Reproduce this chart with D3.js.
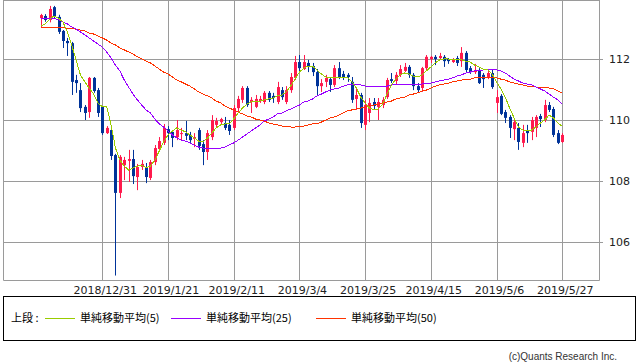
<!DOCTYPE html>
<html>
<head>
<meta charset="utf-8">
<script src="https://cdn.jsdelivr.net/npm/d3@7"></script>
<style>
  body { margin: 0; background: #fff; }
  text { font-family: "DejaVu Sans", sans-serif; }
</style>
</head>
<body>
<div id="plot"></div>
<script>
// daily USD/JPY candles, 2018/12/11 - 2019/5/27 (weekdays)
const dates = [
  "2018/12/11","2018/12/12","2018/12/13","2018/12/14",
  "2018/12/17","2018/12/18","2018/12/19","2018/12/20","2018/12/21",
  "2018/12/24","2018/12/25","2018/12/26","2018/12/27","2018/12/28",
  "2018/12/31","2019/1/1","2019/1/2","2019/1/3","2019/1/4",
  "2019/1/7","2019/1/8","2019/1/9","2019/1/10","2019/1/11",
  "2019/1/14","2019/1/15","2019/1/16","2019/1/17","2019/1/18",
  "2019/1/21","2019/1/22","2019/1/23","2019/1/24","2019/1/25",
  "2019/1/28","2019/1/29","2019/1/30","2019/1/31","2019/2/1",
  "2019/2/4","2019/2/5","2019/2/6","2019/2/7","2019/2/8",
  "2019/2/11","2019/2/12","2019/2/13","2019/2/14","2019/2/15",
  "2019/2/18","2019/2/19","2019/2/20","2019/2/21","2019/2/22",
  "2019/2/25","2019/2/26","2019/2/27","2019/2/28","2019/3/1",
  "2019/3/4","2019/3/5","2019/3/6","2019/3/7","2019/3/8",
  "2019/3/11","2019/3/12","2019/3/13","2019/3/14","2019/3/15",
  "2019/3/18","2019/3/19","2019/3/20","2019/3/21","2019/3/22",
  "2019/3/25","2019/3/26","2019/3/27","2019/3/28","2019/3/29",
  "2019/4/1","2019/4/2","2019/4/3","2019/4/4","2019/4/5",
  "2019/4/8","2019/4/9","2019/4/10","2019/4/11","2019/4/12",
  "2019/4/15","2019/4/16","2019/4/17","2019/4/18","2019/4/19",
  "2019/4/22","2019/4/23","2019/4/24","2019/4/25","2019/4/26",
  "2019/4/29","2019/4/30","2019/5/1","2019/5/2","2019/5/3",
  "2019/5/6","2019/5/7","2019/5/8","2019/5/9","2019/5/10",
  "2019/5/13","2019/5/14","2019/5/15","2019/5/16","2019/5/17",
  "2019/5/20","2019/5/21","2019/5/22","2019/5/23","2019/5/24",
  "2019/5/27"
];

const open = [
  113.34,113.41,113.28,113.70,113.38,112.92,112.59,112.52,111.31,110.98,
  110.43,110.26,111.38,110.98,110.43,109.57,109.67,108.85,107.61,108.52,
  108.66,108.72,108.13,108.46,108.46,108.10,108.62,109.05,109.25,109.70,
  109.61,109.44,109.54,109.57,109.51,109.38,109.67,109.21,108.95,109.44,
  109.84,109.93,109.90,109.84,109.74,110.39,110.66,111.05,110.59,110.43,
  110.62,110.59,110.89,110.79,110.59,110.98,110.59,110.98,111.38,111.90,
  111.67,111.87,111.77,111.57,111.11,111.25,111.34,111.15,111.70,111.51,
  111.48,111.25,110.69,110.82,109.84,110.23,110.59,110.43,110.49,110.75,
  111.34,111.28,111.48,111.61,111.74,111.48,111.11,111.05,111.70,112.00,
  112.07,112.03,112.07,112.00,111.90,112.03,111.93,112.20,111.70,111.57,
  111.64,111.48,111.41,111.54,110.56,110.79,110.26,110.10,109.70,109.74,
  109.25,109.64,109.61,109.74,110.13,110.00,110.49,110.36,109.57,109.28
];
const high = [
  113.48,113.47,113.74,113.74,113.45,112.95,112.69,112.56,111.48,111.21,
  110.49,111.41,111.41,111.05,110.46,109.80,109.74,108.89,108.85,108.79,
  109.02,109.02,108.56,108.69,108.59,108.69,109.18,109.44,109.87,109.80,
  109.67,110.00,109.74,109.97,109.61,109.57,109.74,109.34,109.67,110.16,
  110.07,110.07,110.10,110.00,110.49,110.79,111.11,111.11,110.75,110.82,
  110.79,110.95,110.95,110.89,111.25,111.08,111.11,111.54,112.10,112.13,
  112.13,111.97,111.87,111.67,111.34,111.48,111.41,111.80,111.90,111.61,
  111.54,111.41,111.08,110.89,110.66,110.72,110.72,110.72,110.75,111.38,
  111.54,111.57,111.80,111.87,111.80,111.54,111.21,111.74,112.13,112.10,
  112.13,112.20,112.13,112.03,112.03,112.10,112.39,112.26,111.77,111.84,
  111.70,111.54,111.61,111.64,110.98,110.85,110.33,110.16,110.03,109.90,
  109.84,109.84,110.10,110.16,110.20,110.66,110.59,110.43,109.67,109.57
];
const low = [
  113.05,113.22,113.20,113.32,112.82,112.36,112.10,110.82,110.89,110.26,
  110.00,110.07,110.89,110.10,109.51,109.54,108.69,104.90,107.44,108.03,
  107.97,107.90,107.70,108.36,107.93,108.03,108.52,109.02,109.18,109.34,
  109.11,109.34,109.34,109.34,109.25,109.11,109.02,108.52,108.69,109.34,
  109.74,109.87,109.67,109.51,109.67,110.26,110.56,110.43,110.23,110.39,
  110.56,110.52,110.59,110.56,110.52,110.66,110.52,110.89,111.31,111.57,
  111.64,111.57,111.44,110.82,110.92,111.08,110.92,111.08,111.34,111.31,
  111.25,110.56,110.33,109.74,109.67,109.93,110.33,110.00,110.39,110.69,
  111.21,111.18,111.41,111.57,111.38,110.98,110.89,110.92,111.64,111.87,
  111.80,111.97,111.74,111.84,111.87,111.77,111.74,111.57,111.51,111.51,
  111.18,111.05,111.34,111.02,110.23,110.16,109.90,109.41,109.34,109.02,
  109.11,109.25,109.34,109.44,109.77,109.93,110.26,109.44,109.21,109.25
];
const close = [
  113.44,113.28,113.64,113.38,112.89,112.59,112.52,111.25,111.21,110.39,
  110.23,111.38,110.95,110.23,109.57,109.74,108.82,107.61,108.79,108.69,
  108.72,108.16,108.46,108.56,108.13,108.62,109.08,109.31,109.74,109.57,
  109.41,109.67,109.57,109.48,109.34,109.44,109.15,108.95,109.57,110.00,
  109.97,110.03,109.74,109.64,110.39,110.69,111.05,110.49,110.66,110.69,
  110.69,110.89,110.66,110.72,111.08,110.75,110.98,111.41,111.90,111.70,
  111.90,111.74,111.57,111.11,111.21,111.38,111.15,111.70,111.41,111.41,
  111.41,110.66,110.82,109.90,110.49,110.56,110.46,110.59,110.66,111.31,
  111.28,111.48,111.67,111.74,111.48,111.11,110.98,111.70,112.07,112.07,
  112.00,112.10,111.93,111.93,111.97,111.87,112.20,111.64,111.57,111.64,
  111.21,111.34,111.54,111.08,110.75,110.20,110.07,109.74,109.93,109.28,
  109.57,109.57,110.00,110.10,110.03,110.49,110.33,109.51,109.25,109.51
];

// simple moving averages as drawn on the chart
const ma5 = [
  113.08,113.15,113.31,113.41,113.34,113.21,112.89,112.46,111.97,111.48,
  111.25,111.05,110.85,110.56,110.43,110.43,109.84,109.08,108.69,108.49,
  108.36,108.43,108.49,108.52,108.43,108.49,108.69,108.98,109.28,109.51,
  109.64,109.74,109.67,109.61,109.51,109.41,109.31,109.28,109.41,109.57,
  109.74,109.84,109.87,109.87,110.03,110.23,110.39,110.52,110.59,110.62,
  110.62,110.66,110.69,110.72,110.79,110.82,110.92,111.11,111.34,111.57,
  111.70,111.77,111.77,111.64,111.51,111.41,111.38,111.38,111.38,111.41,
  111.38,111.25,111.05,110.75,110.56,110.39,110.33,110.36,110.52,110.85,
  111.15,111.34,111.48,111.54,111.51,111.44,111.41,111.48,111.61,111.74,
  111.87,111.97,112.00,112.00,111.97,111.97,111.97,111.93,111.90,111.80,
  111.74,111.67,111.64,111.51,111.25,111.02,110.75,110.39,110.07,109.77,
  109.67,109.64,109.67,109.77,109.90,110.00,110.16,110.07,109.90,109.80
];
const ma25 = [
  113.34,113.34,113.34,113.34,113.28,113.21,113.15,113.05,112.98,112.89,
  112.79,112.69,112.59,112.49,112.39,112.23,112.03,111.80,111.61,111.31,
  111.08,110.85,110.66,110.49,110.33,110.23,110.03,109.87,109.77,109.64,
  109.51,109.41,109.34,109.31,109.25,109.18,109.11,109.08,109.05,109.05,
  109.05,109.08,109.11,109.18,109.25,109.34,109.44,109.54,109.64,109.74,
  109.84,109.97,110.03,110.10,110.20,110.23,110.30,110.36,110.43,110.49,
  110.59,110.62,110.69,110.79,110.85,110.92,110.98,111.02,111.05,111.11,
  111.15,111.18,111.18,111.15,111.11,111.11,111.11,111.11,111.11,111.11,
  111.15,111.15,111.18,111.18,111.18,111.18,111.18,111.18,111.21,111.21,
  111.25,111.28,111.31,111.34,111.38,111.44,111.48,111.54,111.57,111.61,
  111.61,111.64,111.64,111.64,111.64,111.61,111.54,111.44,111.34,111.28,
  111.21,111.18,111.15,111.08,111.02,110.95,110.85,110.75,110.66,110.52
];
const ma50 = [
  113.03,113.03,113.03,113.02,113.02,113.02,113.01,113.00,112.98,112.95,
  112.92,112.85,112.82,112.75,112.69,112.62,112.52,112.46,112.36,112.30,
  112.23,112.16,112.07,112.00,111.93,111.87,111.77,111.67,111.57,111.51,
  111.41,111.31,111.25,111.18,111.11,111.02,110.92,110.85,110.79,110.72,
  110.62,110.56,110.46,110.39,110.33,110.26,110.20,110.13,110.10,110.03,
  110.00,109.97,109.90,109.87,109.84,109.80,109.80,109.77,109.77,109.80,
  109.80,109.84,109.87,109.87,109.93,110.00,110.07,110.10,110.16,110.23,
  110.30,110.33,110.36,110.39,110.43,110.46,110.49,110.52,110.56,110.59,
  110.62,110.69,110.72,110.75,110.82,110.85,110.89,110.95,110.98,111.05,
  111.11,111.15,111.18,111.21,111.25,111.28,111.31,111.34,111.34,111.38,
  111.38,111.38,111.38,111.38,111.38,111.34,111.31,111.25,111.21,111.18,
  111.15,111.11,111.11,111.08,111.08,111.05,111.05,111.02,110.95,110.89
];

const xTickLabels = ["2018/12/31","2019/1/21","2019/2/11","2019/3/4","2019/3/25","2019/4/15","2019/5/6","2019/5/27"];
const yTicks = [106, 108, 110, 112];
const legendLabels = ["単純移動平均(5)", "単純移動平均(25)", "単純移動平均(50)"];

// colours
const upColor = "#ff1a4d", downColor = "#003399";
const maColors = ["#99cc00", "#9900ff", "#ff3300"];
const gridColor = "#9a9a9a";

// plot box
const plot = {left: 3, right: 599, top: 0, bottom: 280};
const width = 638, height = 362;

const x = d3.scaleLinear().domain([0, dates.length - 1]).range([41, 562.2]);
const y = d3.scaleLinear().domain([104.754, 113.934]).range([plot.bottom, plot.top]);

const svg = d3.select("#plot").append("svg")
    .attr("width", width)
    .attr("height", height)
    .style("display", "block");

svg.append("rect").attr("width", width).attr("height", height).attr("fill", "#fff");

svg.append("clipPath").attr("id", "clip")
  .append("rect")
    .attr("x", plot.left).attr("y", plot.top)
    .attr("width", plot.right - plot.left).attr("height", plot.bottom - plot.top);

// horizontal grid + right-side ticks
svg.append("g").selectAll("line")
  .data(yTicks)
  .enter().append("line")
    .attr("x1", plot.left).attr("x2", plot.right + 4)
    .attr("y1", d => Math.round(y(d)) + 0.5)
    .attr("y2", d => Math.round(y(d)) + 0.5)
    .attr("stroke", gridColor);

svg.append("g").selectAll("text")
  .data(yTicks)
  .enter().append("text")
    .attr("x", 609)
    .attr("y", d => Math.round(y(d)))
    .attr("dy", "0.36em")
    .attr("font-size", "11px")
    .attr("fill", "#222")
    .text(d => d);

// vertical grid at the dated ticks
const tickIdx = xTickLabels.map(d => dates.indexOf(d));
svg.append("g").selectAll("line")
  .data(tickIdx)
  .enter().append("line")
    .attr("x1", d => Math.round(x(d)) + 0.5)
    .attr("x2", d => Math.round(x(d)) + 0.5)
    .attr("y1", plot.top).attr("y2", plot.bottom)
    .attr("stroke", gridColor);

svg.append("g").selectAll("text")
  .data(tickIdx)
  .enter().append("text")
    .attr("x", d => x(d) + 3)
    .attr("y", 294)
    .attr("text-anchor", "middle")
    .attr("font-size", "11px")
    .attr("fill", "#222")
    .text(d => dates[d]);

// frame
svg.append("path")
    .attr("d", `M${plot.left + 0.5},${plot.top} V${plot.bottom + 0.5} H${plot.right + 0.5} V${plot.top}`)
    .attr("fill", "none")
    .attr("stroke", gridColor);
svg.append("line")
    .attr("x1", plot.left).attr("x2", plot.right + 1)
    .attr("y1", 0.5).attr("y2", 0.5)
    .attr("stroke", gridColor);

// candles
const chart = svg.append("g").attr("clip-path", "url(#clip)");
const candles = chart.selectAll(".candle")
  .data(d3.range(dates.length))
  .enter().append("g")
    .attr("class", "candle");

candles.append("line")
    .attr("x1", i => Math.round(x(i)) + 0.5)
    .attr("x2", i => Math.round(x(i)) + 0.5)
    .attr("y1", i => y(high[i]))
    .attr("y2", i => y(low[i]))
    .attr("stroke", i => close[i] >= open[i] ? upColor : downColor);

candles.append("rect")
    .attr("x", i => Math.round(x(i)) - 1)
    .attr("width", 3)
    .attr("y", i => y(Math.max(open[i], close[i])))
    .attr("height", i => Math.max(1, Math.abs(y(open[i]) - y(close[i]))))
    .attr("fill", i => close[i] >= open[i] ? upColor : downColor);

// moving averages (drawn aliased like the original)
const maLine = d3.line().x((d, i) => x(i)).y(d => y(d));
[ma50, ma25, ma5].forEach((s, k) => {
  chart.append("path")
      .datum(s)
      .attr("fill", "none")
      .attr("stroke", maColors[2 - k])
      .attr("stroke-width", 1)
      .attr("shape-rendering", "crispEdges")
      .attr("d", maLine);
});

// legend box
svg.append("rect")
    .attr("x", 3.5).attr("y", 296.5)
    .attr("width", 632).attr("height", 44)
    .attr("fill", "none")
    .attr("stroke", "#000");

const legend = svg.append("g").attr("font-size", "11px");
legend.append("text")
    .attr("x", 11).attr("y", 318).attr("dy", "0.35em")
    .style("font-family", "'Noto Sans CJK JP', sans-serif")
    .text("上段 :");

const legendX = [45, 171, 316];
legendLabels.forEach((lab, k) => {
  legend.append("line")
      .attr("x1", legendX[k]).attr("x2", legendX[k] + 30)
      .attr("y1", 318.5).attr("y2", 318.5)
      .attr("stroke", maColors[k]);
  legend.append("text")
      .attr("x", legendX[k] + 35).attr("y", 318).attr("dy", "0.35em")
      .style("font-family", "'Noto Sans CJK JP', sans-serif")
      .text(lab);
});

// credit
svg.append("text")
    .attr("x", 617).attr("y", 360)
    .attr("text-anchor", "end")
    .attr("font-size", "10px")
    .attr("fill", "#333")
    .style("font-family", "'Liberation Sans', sans-serif")
    .text("(c)Quants Research Inc.");
</script>
</body>
</html>
